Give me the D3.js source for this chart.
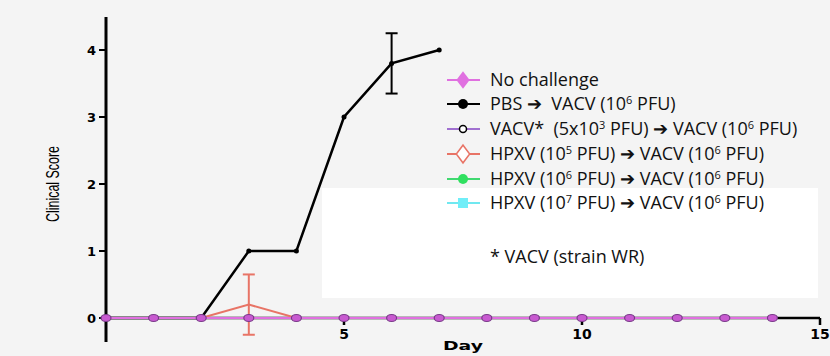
<!DOCTYPE html>
<html><head><meta charset="utf-8">
<script src="https://cdn.jsdelivr.net/npm/d3@7"></script>
<style>html,body{margin:0;padding:0;background:#f4f4f4;} text{white-space:pre;}</style>
</head><body>
<svg id="c" width="830" height="356"></svg>
<script>
const days = [0,1,2,3,4,5,6,7,8,9,10,11,12,13,14];
const noChallenge = [0,0,0,0,0,0,0,0,0,0,0,0,0,0,0];
const pbsDays = [0,1,2,3,4,5,6,7];
const pbs = [0,0,0,1,1,3,3.8,4];
const pbsErr = [0,0,0,0,0,0,0.45,0];
const vacvPrime = [0,0,0,0,0,0,0,0,0,0,0,0,0,0,0];
const hpxv5Days = [0,1,2,3,4,5,6,7,8,9,10,11,12,13,14];
const hpxv5 = [0,0,0,0.2,0,0,0,0,0,0,0,0,0,0,0];
const hpxv5Err = [0,0,0,0.45,0,0,0,0,0,0,0,0,0,0,0];
const hpxv6 = [0,0,0,0,0,0,0,0,0,0,0,0,0,0,0];
const hpxv7 = [0,0,0,0,0,0,0,0,0,0,0,0,0,0,0];
const yTicks = [0,1,2,3,4];
const xTicks = [5,10,15];
const legendLabels = [
  ["No challenge"],
  ["PBS \u2794  VACV (10", "6", " PFU)"],
  ["VACV*  (5x10", "3", " PFU) \u2794 VACV (10", "6", " PFU)"],
  ["HPXV (10", "5", " PFU) \u2794 VACV (10", "6", " PFU)"],
  ["HPXV (10", "6", " PFU) \u2794 VACV (10", "6", " PFU)"],
  ["HPXV (10", "7", " PFU) \u2794 VACV (10", "6", " PFU)"]
];
const footnote = "* VACV (strain WR)";

const svg = d3.select("#c");
const x = d3.scaleLinear().domain([0,15]).range([106,820]);
const y = d3.scaleLinear().domain([0,4]).range([318,50]);

svg.append("rect").attr("width",830).attr("height",356).attr("fill","#f4f4f4");
svg.append("rect").attr("x",322).attr("y",188).attr("width",496).attr("height",110).attr("fill","#ffffff");

// y axis
svg.append("line").attr("x1",x(0)).attr("x2",x(0)).attr("y1",17).attr("y2",342)
  .attr("stroke","#000").attr("stroke-width",3);
const yg = svg.append("g");
yTicks.forEach(t=>{
  yg.append("line").attr("x1",x(0)-7).attr("x2",x(0)).attr("y1",y(t)).attr("y2",y(t)).attr("stroke","#000").attr("stroke-width",2);
  yg.append("text").attr("x",x(0)-10).attr("y",y(t)).attr("dy","0.36em").attr("text-anchor","end")
    .attr("font-family","DejaVu Sans, Arial").attr("font-weight","bold").attr("font-size",13).text(t);
});
svg.append("text").attr("transform",`translate(59,${y(2)}) rotate(-90)`).attr("text-anchor","middle")
  .attr("font-family","Liberation Sans Narrow, Liberation Sans, Arial").attr("font-size",18)
  .attr("textLength",76).attr("lengthAdjust","spacingAndGlyphs").text("Clinical Score");

// x axis
svg.append("line").attr("x1",x(0)).attr("x2",x(15)).attr("y1",y(0)).attr("y2",y(0)).attr("stroke","#000").attr("stroke-width",2.5);
xTicks.forEach(t=>{
  svg.append("line").attr("x1",x(t)).attr("x2",x(t)).attr("y1",y(0)).attr("y2",y(0)+7).attr("stroke","#000").attr("stroke-width",2.5);
  svg.append("text").attr("x",x(t)).attr("y",y(0)+21).attr("text-anchor","middle")
    .attr("font-family","DejaVu Sans, Arial").attr("font-weight","bold").attr("font-size",14).text(t);
});
svg.append("text").attr("x",463).attr("y",350).attr("text-anchor","middle")
  .attr("font-family","DejaVu Sans, Arial").attr("font-weight","bold").attr("font-size",13)
  .attr("textLength",40).attr("lengthAdjust","spacingAndGlyphs").text("Day");

const line = d3.line().x(d=>x(d[0])).y(d=>y(d[1]));
function drawSeries(ds, vals, color, w){
  svg.append("path").datum(ds.map((d,i)=>[d,vals[i]])).attr("d",line).attr("fill","none").attr("stroke",color).attr("stroke-width",w);
}
function errBars(ds, vals, errs, color, w){
  ds.forEach((d,i)=>{
    if(!errs[i]) return;
    const g = svg.append("g").attr("stroke",color).attr("stroke-width",w);
    g.append("line").attr("x1",x(d)).attr("x2",x(d)).attr("y1",y(vals[i]+errs[i])).attr("y2",y(vals[i]-errs[i]));
    g.append("line").attr("x1",x(d)-6).attr("x2",x(d)+6).attr("y1",y(vals[i]+errs[i])).attr("y2",y(vals[i]+errs[i]));
    g.append("line").attr("x1",x(d)-6).attr("x2",x(d)+6).attr("y1",y(vals[i]-errs[i])).attr("y2",y(vals[i]-errs[i]));
  });
}

// PBS black
drawSeries(pbsDays, pbs, "#000", 2.5);
errBars(pbsDays, pbs, pbsErr, "#000", 2);
pbsDays.forEach((d,i)=>svg.append("circle").attr("cx",x(d)).attr("cy",y(pbs[i])).attr("r",2.5).attr("fill","#000"));
// HPXV 10^5 salmon
drawSeries(hpxv5Days, hpxv5, "#e87466", 2);
errBars(hpxv5Days, hpxv5, hpxv5Err, "#e87466", 2);
// others zeros
drawSeries(days, hpxv7, "#70e8f0", 2);
drawSeries(days, hpxv6, "#40d870", 2);
drawSeries(days, vacvPrime, "#a070d0", 2);
drawSeries(days, noChallenge, "#e070e0", 2);
days.forEach((d,i)=>{
  svg.append("ellipse").attr("cx",x(d)).attr("cy",y(noChallenge[i])).attr("rx",5).attr("ry",3.5)
    .attr("fill","#c85ad0").attr("stroke","#7a3a8a").attr("stroke-width",1.2);
});

// legend
const lg = svg.append("g").attr("font-family","Open Sans, Noto Sans, sans-serif").attr("font-size",18).attr("fill","#111");
const lx0 = 447, lx1 = 480, lmx = 463, ltx = 490;
const rows = [80,104,129,154,179,203];
const styles = [
  {c:"#e070e0", m:"diamond", fill:"#e070e0"},
  {c:"#000", m:"circle", fill:"#000"},
  {c:"#a070d0", m:"circle", fill:"#fff", stroke:"#000"},
  {c:"#e87466", m:"diamond", fill:"#fff", stroke:"#e87466"},
  {c:"#40d870", m:"circle", fill:"#30e060"},
  {c:"#70e8f0", m:"square", fill:"#70eef8"}
];
legendLabels.forEach((lab,i)=>{
  const yy = rows[i], s = styles[i];
  lg.append("line").attr("x1",lx0).attr("x2",lx1).attr("y1",yy).attr("y2",yy).attr("stroke",s.c).attr("stroke-width",2);
  if(s.m==="diamond") lg.append("path").attr("d",d3.symbol(d3.symbolDiamond,90)()).attr("transform",`translate(${lmx},${yy}) scale(1.3,1)`).attr("fill",s.fill).attr("stroke",s.stroke||"none").attr("stroke-width",1.3);
  else if(s.m==="circle") lg.append("circle").attr("cx",lmx).attr("cy",yy).attr("r",s.stroke?3.5:5).attr("fill",s.fill).attr("stroke",s.stroke||"none").attr("stroke-width",1.5);
  else lg.append("rect").attr("x",lmx-5).attr("y",yy-5).attr("width",10).attr("height",10).attr("fill",s.fill);
  const t = lg.append("text").attr("x",ltx).attr("y",yy).attr("dy","0.35em");
  lab.forEach((part,j)=>{
    if(j%2===1) t.append("tspan").attr("font-size",11).attr("dy","-0.55em").text(part);
    else if(j>0) t.append("tspan").attr("dy","0.33em").text(part);
    else t.append("tspan").text(part);
  });
});
lg.append("text").attr("x",ltx).attr("y",257).attr("dy","0.35em").text(footnote);
</script>
</body></html>
